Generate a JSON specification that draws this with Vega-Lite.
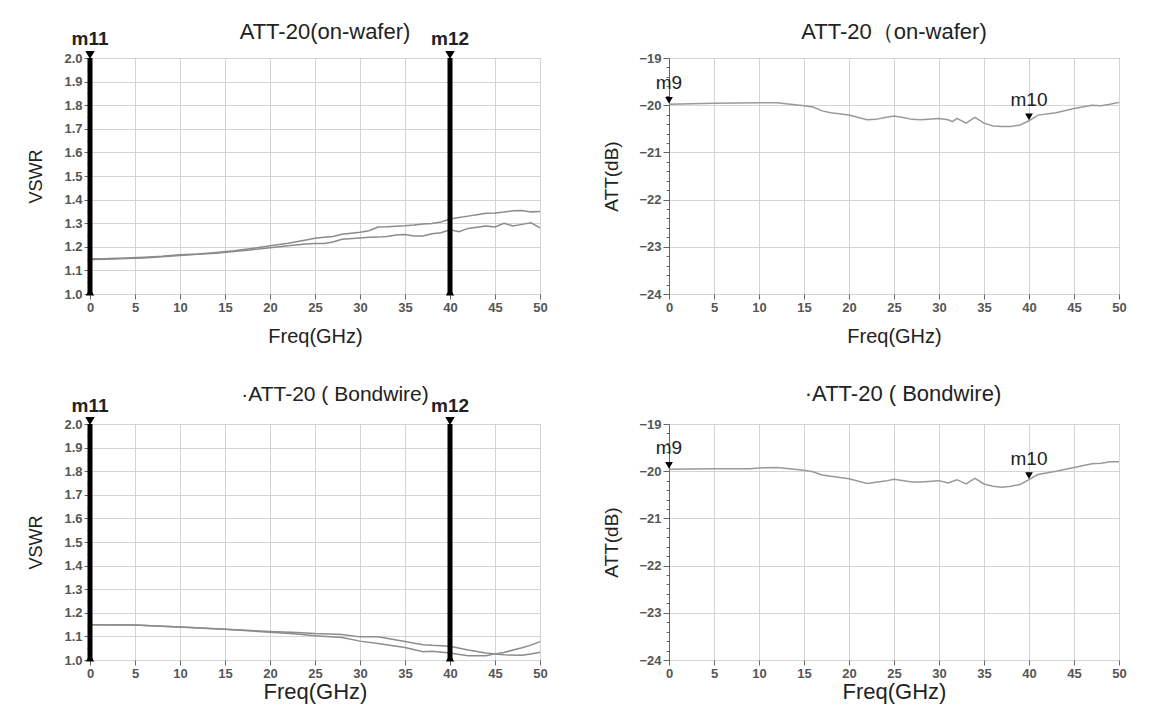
{
  "$schema": "https://vega.github.io/schema/vega-lite/v6.json",
  "background": "white",
  "padding": {"left": 27, "top": 20, "right": 5, "bottom": 5},
  "config": {
    "font": "Liberation Sans",
    "view": {"stroke": "#9a9a9a", "strokeWidth": 1},
    "axis": {"gridColor": "#d4d4d4", "gridWidth": 1, "labelFontSize": 13, "labelFontWeight": "bold", "labelColor": "#555", "tickColor": "#666", "domainColor": "#777", "titleFontWeight": "normal", "titleColor": "#222", "labelOverlap": false, "labelFlush": false}
  },
  "datasets": {
    "vswr_wafer": [
      {"f": 0, "a": 1.149, "b": 1.146}, {"f": 2, "a": 1.150, "b": 1.147}, {"f": 4, "a": 1.153, "b": 1.150},
      {"f": 6, "a": 1.156, "b": 1.153}, {"f": 8, "a": 1.160, "b": 1.158}, {"f": 10, "a": 1.166, "b": 1.163},
      {"f": 12, "a": 1.170, "b": 1.168}, {"f": 14, "a": 1.176, "b": 1.173}, {"f": 16, "a": 1.183, "b": 1.180},
      {"f": 18, "a": 1.193, "b": 1.188}, {"f": 20, "a": 1.204, "b": 1.196}, {"f": 22, "a": 1.215, "b": 1.204},
      {"f": 24, "a": 1.229, "b": 1.212}, {"f": 25, "a": 1.236, "b": 1.214}, {"f": 26, "a": 1.240, "b": 1.214},
      {"f": 27, "a": 1.244, "b": 1.220}, {"f": 28, "a": 1.253, "b": 1.232}, {"f": 30, "a": 1.262, "b": 1.237},
      {"f": 31, "a": 1.268, "b": 1.240}, {"f": 32, "a": 1.284, "b": 1.241}, {"f": 33, "a": 1.285, "b": 1.244},
      {"f": 34, "a": 1.287, "b": 1.250}, {"f": 35, "a": 1.289, "b": 1.252}, {"f": 36, "a": 1.292, "b": 1.246},
      {"f": 37, "a": 1.297, "b": 1.246}, {"f": 38, "a": 1.299, "b": 1.255}, {"f": 39, "a": 1.305, "b": 1.260},
      {"f": 40, "a": 1.318, "b": 1.272}, {"f": 41, "a": 1.324, "b": 1.264}, {"f": 42, "a": 1.330, "b": 1.278},
      {"f": 43, "a": 1.336, "b": 1.283}, {"f": 44, "a": 1.342, "b": 1.288}, {"f": 45, "a": 1.343, "b": 1.284},
      {"f": 46, "a": 1.347, "b": 1.300}, {"f": 47, "a": 1.353, "b": 1.288}, {"f": 48, "a": 1.354, "b": 1.295},
      {"f": 49, "a": 1.348, "b": 1.302}, {"f": 50, "a": 1.350, "b": 1.280}
    ],
    "vswr_bond": [
      {"f": 0, "a": 1.149, "b": 1.149}, {"f": 5, "a": 1.148, "b": 1.148}, {"f": 8, "a": 1.143, "b": 1.143},
      {"f": 10, "a": 1.140, "b": 1.140}, {"f": 15, "a": 1.130, "b": 1.130}, {"f": 20, "a": 1.121, "b": 1.118},
      {"f": 23, "a": 1.117, "b": 1.110}, {"f": 25, "a": 1.112, "b": 1.103}, {"f": 28, "a": 1.108, "b": 1.095},
      {"f": 30, "a": 1.098, "b": 1.080}, {"f": 32, "a": 1.098, "b": 1.070}, {"f": 35, "a": 1.078, "b": 1.053},
      {"f": 37, "a": 1.065, "b": 1.035}, {"f": 38, "a": 1.062, "b": 1.037}, {"f": 40, "a": 1.058, "b": 1.030},
      {"f": 42, "a": 1.042, "b": 1.018}, {"f": 44, "a": 1.030, "b": 1.018}, {"f": 45, "a": 1.025, "b": 1.026},
      {"f": 46, "a": 1.022, "b": 1.032}, {"f": 48, "a": 1.020, "b": 1.052}, {"f": 49, "a": 1.025, "b": 1.063},
      {"f": 50, "a": 1.033, "b": 1.078}
    ],
    "att_wafer": [
      {"f": 0, "att": -19.98}, {"f": 5, "att": -19.96}, {"f": 10, "att": -19.95}, {"f": 12, "att": -19.95},
      {"f": 15, "att": -20.01}, {"f": 16, "att": -20.04}, {"f": 17, "att": -20.12}, {"f": 18, "att": -20.16},
      {"f": 20, "att": -20.21}, {"f": 22, "att": -20.31}, {"f": 23, "att": -20.30}, {"f": 24, "att": -20.26},
      {"f": 25, "att": -20.23}, {"f": 26, "att": -20.26}, {"f": 27, "att": -20.30}, {"f": 28, "att": -20.31},
      {"f": 30, "att": -20.28}, {"f": 31, "att": -20.31}, {"f": 31.5, "att": -20.35}, {"f": 32, "att": -20.28},
      {"f": 33, "att": -20.38}, {"f": 34, "att": -20.26}, {"f": 35, "att": -20.38}, {"f": 36, "att": -20.44},
      {"f": 37, "att": -20.45}, {"f": 38, "att": -20.45}, {"f": 39, "att": -20.42}, {"f": 40, "att": -20.33},
      {"f": 41, "att": -20.21}, {"f": 43, "att": -20.16}, {"f": 45, "att": -20.07}, {"f": 47, "att": -20.00},
      {"f": 48, "att": -20.01}, {"f": 49, "att": -19.98}, {"f": 50, "att": -19.94}
    ],
    "att_bond": [
      {"f": 0, "att": -19.96}, {"f": 5, "att": -19.95}, {"f": 9, "att": -19.95}, {"f": 10, "att": -19.93},
      {"f": 12, "att": -19.92}, {"f": 15, "att": -19.98}, {"f": 16, "att": -20.01}, {"f": 17, "att": -20.08},
      {"f": 20, "att": -20.16}, {"f": 22, "att": -20.26}, {"f": 24, "att": -20.21}, {"f": 25, "att": -20.17},
      {"f": 27, "att": -20.23}, {"f": 28, "att": -20.23}, {"f": 30, "att": -20.20}, {"f": 31, "att": -20.25},
      {"f": 32, "att": -20.18}, {"f": 33, "att": -20.27}, {"f": 34, "att": -20.15}, {"f": 35, "att": -20.27},
      {"f": 36, "att": -20.32}, {"f": 37, "att": -20.34}, {"f": 38, "att": -20.32}, {"f": 39, "att": -20.28},
      {"f": 40, "att": -20.18}, {"f": 41, "att": -20.07}, {"f": 43, "att": -20.00}, {"f": 45, "att": -19.92},
      {"f": 47, "att": -19.84}, {"f": 48, "att": -19.83}, {"f": 49, "att": -19.80}, {"f": 50, "att": -19.80}
    ],
    "m_vswr": [{"name": "m11", "f": 0}, {"name": "m12", "f": 40}],
    "m_att_wafer": [{"name": "m9", "f": 0, "att": -19.98}, {"name": "m10", "f": 40, "att": -20.33}],
    "m_att_bond": [{"name": "m9", "f": 0, "att": -19.96}, {"name": "m10", "f": 40, "att": -20.18}]
  },
  "columns": 2,
  "bounds": "flush",
  "spacing": {"row": 130, "column": 129},
  "concat": [
    {
      "width": 450, "height": 236,
      "title": {"text": "ATT-20(on-wafer)", "frame": "group", "offset": -14, "dx": 10, "fontSize": 22, "fontWeight": "normal", "color": "#222"},
      "encoding": {
        "x": {"field": "f", "type": "quantitative", "scale": {"domain": [0, 50], "nice": false},
          "axis": {"values": [0,5,10,15,20,25,30,35,40,45,50], "title": "Freq(GHz)", "titleFontSize": 20, "titlePadding": 12, "tickSize": 5, "domain": false}}
      },
      "layer": [
        {
          "data": {"name": "vswr_wafer"},
          "transform": [{"fold": ["a", "b"], "as": ["trace", "vswr"]}],
          "mark": {"type": "line", "strokeWidth": 1.5},
          "encoding": {
            "y": {"field": "vswr", "type": "quantitative", "scale": {"domain": [1, 2], "nice": false},
              "axis": {"values": [1,1.05,1.1,1.15,1.2,1.25,1.3,1.35,1.4,1.45,1.5,1.55,1.6,1.65,1.7,1.75,1.8,1.85,1.9,1.95,2], "title": "VSWR", "titleFontSize": 18, "titlePadding": 18, "domainColor": "#666", "labelExpr": "abs(datum.value*10-round(datum.value*10))<0.01 ? format(datum.value,'.1f') : ''", "tickSize": {"condition": {"test": "abs(datum.value*10-round(datum.value*10))<0.01", "value": 6}, "value": 3}, "gridOpacity": {"condition": {"test": "abs(datum.value*10-round(datum.value*10))<0.01", "value": 1}, "value": 0}}},
            "color": {"field": "trace", "type": "nominal", "scale": {"domain": ["a", "b"], "range": ["#8c8c8c", "#8c8c8c"]}, "legend": null}
          }
        },
        {
          "data": {"name": "m_vswr"},
          "mark": {"type": "rule", "strokeWidth": 5, "color": "#000"}
        },
        {
          "data": {"name": "m_vswr"},
          "mark": {"type": "point", "shape": "triangle-down", "filled": true, "color": "#000", "size": 90, "opacity": 1, "yOffset": -3},
          "encoding": {
            "y": {"datum": 2, "type": "quantitative", "scale": {"domain": [1, 2], "nice": false},
              "axis": {"values": [1,1.05,1.1,1.15,1.2,1.25,1.3,1.35,1.4,1.45,1.5,1.55,1.6,1.65,1.7,1.75,1.8,1.85,1.9,1.95,2], "title": "VSWR", "titleFontSize": 18, "titlePadding": 18, "domainColor": "#666", "labelExpr": "abs(datum.value*10-round(datum.value*10))<0.01 ? format(datum.value,'.1f') : ''", "tickSize": {"condition": {"test": "abs(datum.value*10-round(datum.value*10))<0.01", "value": 6}, "value": 3}, "gridOpacity": {"condition": {"test": "abs(datum.value*10-round(datum.value*10))<0.01", "value": 1}, "value": 0}}}
          }
        },
        {
          "data": {"name": "m_vswr"},
          "mark": {"type": "point", "shape": "triangle-up", "filled": true, "color": "#000", "size": 70, "opacity": 1, "yOffset": -2},
          "encoding": {
            "y": {"datum": 1, "type": "quantitative", "scale": {"domain": [1, 2], "nice": false},
              "axis": {"values": [1,1.05,1.1,1.15,1.2,1.25,1.3,1.35,1.4,1.45,1.5,1.55,1.6,1.65,1.7,1.75,1.8,1.85,1.9,1.95,2], "title": "VSWR", "titleFontSize": 18, "titlePadding": 18, "domainColor": "#666", "labelExpr": "abs(datum.value*10-round(datum.value*10))<0.01 ? format(datum.value,'.1f') : ''", "tickSize": {"condition": {"test": "abs(datum.value*10-round(datum.value*10))<0.01", "value": 6}, "value": 3}, "gridOpacity": {"condition": {"test": "abs(datum.value*10-round(datum.value*10))<0.01", "value": 1}, "value": 0}}}
          }
        },
        {
          "data": {"name": "m_vswr"},
          "mark": {"type": "text", "fontSize": 19, "fontWeight": "bold", "color": "#222", "dy": -19},
          "encoding": {
            "y": {"datum": 2, "type": "quantitative", "scale": {"domain": [1, 2], "nice": false},
              "axis": {"values": [1,1.05,1.1,1.15,1.2,1.25,1.3,1.35,1.4,1.45,1.5,1.55,1.6,1.65,1.7,1.75,1.8,1.85,1.9,1.95,2], "title": "VSWR", "titleFontSize": 18, "titlePadding": 18, "domainColor": "#666", "labelExpr": "abs(datum.value*10-round(datum.value*10))<0.01 ? format(datum.value,'.1f') : ''", "tickSize": {"condition": {"test": "abs(datum.value*10-round(datum.value*10))<0.01", "value": 6}, "value": 3}, "gridOpacity": {"condition": {"test": "abs(datum.value*10-round(datum.value*10))<0.01", "value": 1}, "value": 0}}},
            "text": {"field": "name"}
          }
        }
      ]
    },
    {
      "width": 450, "height": 236,
      "title": {"text": "ATT-20（on-wafer)", "frame": "group", "offset": 8, "dx": 0, "fontSize": 22, "fontWeight": "normal", "color": "#222"},
      "encoding": {
        "x": {"field": "f", "type": "quantitative", "scale": {"domain": [0, 50], "nice": false},
          "axis": {"values": [0,5,10,15,20,25,30,35,40,45,50], "title": "Freq(GHz)", "titleFontSize": 20, "titlePadding": 12, "tickSize": 5, "domain": false}},
        "y": {"field": "att", "type": "quantitative", "scale": {"domain": [-24, -19], "nice": false},
          "axis": {"values": [-24,-23.8,-23.6,-23.4,-23.2,-23,-22.8,-22.6,-22.4,-22.2,-22,-21.8,-21.6,-21.4,-21.2,-21,-20.8,-20.6,-20.4,-20.2,-20,-19.8,-19.6,-19.4,-19.2,-19],
            "title": "ATT(dB)", "titleFontSize": 19, "titlePadding": 17, "domainColor": "#666",
            "labelExpr": "abs(datum.value-round(datum.value))<0.01 ? format(datum.value,'d') : ''",
            "tickSize": {"condition": {"test": "abs(datum.value-round(datum.value))<0.01", "value": 6}, "value": 3},
            "gridOpacity": {"condition": {"test": "abs(datum.value-round(datum.value))<0.01", "value": 1}, "value": 0}}}
      },
      "layer": [
        {
          "data": {"name": "att_wafer"},
          "mark": {"type": "line", "strokeWidth": 1.5, "color": "#999"}
        },
        {
          "data": {"name": "m_att_wafer"},
          "mark": {"type": "point", "shape": "triangle-down", "filled": true, "color": "#000", "size": 60, "opacity": 1, "yOffset": -4}
        },
        {
          "data": {"name": "m_att_wafer"},
          "mark": {"type": "text", "fontSize": 19, "color": "#222", "dy": -21},
          "encoding": {"text": {"field": "name"}}
        }
      ]
    },
    {
      "width": 450, "height": 236,
      "title": {"text": "·ATT-20 ( Bondwire)", "frame": "group", "offset": -8, "dx": 20, "fontSize": 21, "fontWeight": "normal", "color": "#222"},
      "encoding": {
        "x": {"field": "f", "type": "quantitative", "scale": {"domain": [0, 50], "nice": false},
          "axis": {"values": [0,5,10,15,20,25,30,35,40,45,50], "title": "Freq(GHz)", "titleFontSize": 22, "titlePadding": 1, "tickSize": 5, "domain": false}}
      },
      "layer": [
        {
          "data": {"name": "vswr_bond"},
          "transform": [{"fold": ["a", "b"], "as": ["trace", "vswr"]}],
          "mark": {"type": "line", "strokeWidth": 1.5},
          "encoding": {
            "y": {"field": "vswr", "type": "quantitative", "scale": {"domain": [1, 2], "nice": false},
              "axis": {"values": [1,1.05,1.1,1.15,1.2,1.25,1.3,1.35,1.4,1.45,1.5,1.55,1.6,1.65,1.7,1.75,1.8,1.85,1.9,1.95,2], "title": "VSWR", "titleFontSize": 18, "titlePadding": 18, "domainColor": "#666", "labelExpr": "abs(datum.value*10-round(datum.value*10))<0.01 ? format(datum.value,'.1f') : ''", "tickSize": {"condition": {"test": "abs(datum.value*10-round(datum.value*10))<0.01", "value": 6}, "value": 3}, "gridOpacity": {"condition": {"test": "abs(datum.value*10-round(datum.value*10))<0.01", "value": 1}, "value": 0}}},
            "color": {"field": "trace", "type": "nominal", "scale": {"domain": ["a", "b"], "range": ["#4a4a4a", "#8c8c8c"]}, "legend": null}
          }
        },
        {
          "data": {"name": "m_vswr"},
          "mark": {"type": "rule", "strokeWidth": 5, "color": "#000"}
        },
        {
          "data": {"name": "m_vswr"},
          "mark": {"type": "point", "shape": "triangle-down", "filled": true, "color": "#000", "size": 90, "opacity": 1, "yOffset": -3},
          "encoding": {
            "y": {"datum": 2, "type": "quantitative", "scale": {"domain": [1, 2], "nice": false},
              "axis": {"values": [1,1.05,1.1,1.15,1.2,1.25,1.3,1.35,1.4,1.45,1.5,1.55,1.6,1.65,1.7,1.75,1.8,1.85,1.9,1.95,2], "title": "VSWR", "titleFontSize": 18, "titlePadding": 18, "domainColor": "#666", "labelExpr": "abs(datum.value*10-round(datum.value*10))<0.01 ? format(datum.value,'.1f') : ''", "tickSize": {"condition": {"test": "abs(datum.value*10-round(datum.value*10))<0.01", "value": 6}, "value": 3}, "gridOpacity": {"condition": {"test": "abs(datum.value*10-round(datum.value*10))<0.01", "value": 1}, "value": 0}}}
          }
        },
        {
          "data": {"name": "m_vswr"},
          "mark": {"type": "point", "shape": "triangle-up", "filled": true, "color": "#000", "size": 70, "opacity": 1, "yOffset": -2},
          "encoding": {
            "y": {"datum": 1, "type": "quantitative", "scale": {"domain": [1, 2], "nice": false},
              "axis": {"values": [1,1.05,1.1,1.15,1.2,1.25,1.3,1.35,1.4,1.45,1.5,1.55,1.6,1.65,1.7,1.75,1.8,1.85,1.9,1.95,2], "title": "VSWR", "titleFontSize": 18, "titlePadding": 18, "domainColor": "#666", "labelExpr": "abs(datum.value*10-round(datum.value*10))<0.01 ? format(datum.value,'.1f') : ''", "tickSize": {"condition": {"test": "abs(datum.value*10-round(datum.value*10))<0.01", "value": 6}, "value": 3}, "gridOpacity": {"condition": {"test": "abs(datum.value*10-round(datum.value*10))<0.01", "value": 1}, "value": 0}}}
          }
        },
        {
          "data": {"name": "m_vswr"},
          "mark": {"type": "text", "fontSize": 19, "fontWeight": "bold", "color": "#222", "dy": -18},
          "encoding": {
            "y": {"datum": 2, "type": "quantitative", "scale": {"domain": [1, 2], "nice": false},
              "axis": {"values": [1,1.05,1.1,1.15,1.2,1.25,1.3,1.35,1.4,1.45,1.5,1.55,1.6,1.65,1.7,1.75,1.8,1.85,1.9,1.95,2], "title": "VSWR", "titleFontSize": 18, "titlePadding": 18, "domainColor": "#666", "labelExpr": "abs(datum.value*10-round(datum.value*10))<0.01 ? format(datum.value,'.1f') : ''", "tickSize": {"condition": {"test": "abs(datum.value*10-round(datum.value*10))<0.01", "value": 6}, "value": 3}, "gridOpacity": {"condition": {"test": "abs(datum.value*10-round(datum.value*10))<0.01", "value": 1}, "value": 0}}},
            "text": {"field": "name"}
          }
        }
      ]
    },
    {
      "width": 450, "height": 236,
      "title": {"text": "·ATT-20 ( Bondwire)", "frame": "group", "offset": 12, "dx": 9, "fontSize": 22, "fontWeight": "normal", "color": "#222"},
      "encoding": {
        "x": {"field": "f", "type": "quantitative", "scale": {"domain": [0, 50], "nice": false},
          "axis": {"values": [0,5,10,15,20,25,30,35,40,45,50], "title": "Freq(GHz)", "titleFontSize": 22, "titlePadding": 1, "tickSize": 5, "domain": false}},
        "y": {"field": "att", "type": "quantitative", "scale": {"domain": [-24, -19], "nice": false},
          "axis": {"values": [-24,-23.8,-23.6,-23.4,-23.2,-23,-22.8,-22.6,-22.4,-22.2,-22,-21.8,-21.6,-21.4,-21.2,-21,-20.8,-20.6,-20.4,-20.2,-20,-19.8,-19.6,-19.4,-19.2,-19],
            "title": "ATT(dB)", "titleFontSize": 19, "titlePadding": 17, "domainColor": "#666",
            "labelExpr": "abs(datum.value-round(datum.value))<0.01 ? format(datum.value,'d') : ''",
            "tickSize": {"condition": {"test": "abs(datum.value-round(datum.value))<0.01", "value": 6}, "value": 3},
            "gridOpacity": {"condition": {"test": "abs(datum.value-round(datum.value))<0.01", "value": 1}, "value": 0}}}
      },
      "layer": [
        {
          "data": {"name": "att_bond"},
          "mark": {"type": "line", "strokeWidth": 1.5, "color": "#999"}
        },
        {
          "data": {"name": "m_att_bond"},
          "mark": {"type": "point", "shape": "triangle-down", "filled": true, "color": "#000", "size": 60, "opacity": 1, "yOffset": -4}
        },
        {
          "data": {"name": "m_att_bond"},
          "mark": {"type": "text", "fontSize": 19, "color": "#222", "dy": -21},
          "encoding": {"text": {"field": "name"}}
        }
      ]
    }
  ]
}
